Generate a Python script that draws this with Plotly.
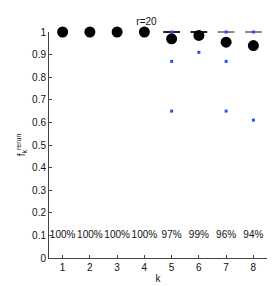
import plotly.graph_objects as go

ks = [1, 2, 3, 4, 5, 6, 7, 8]
frac = [1.0, 1.0, 1.0, 1.0, 0.97, 0.985, 0.955, 0.94]
pct_labels = ["100%", "100%", "100%", "100%", "97%", "99%", "96%", "94%"]
out_k = [5, 5, 5, 6, 7, 7, 7, 8, 8]
out_v = [1.0, 0.87, 0.65, 0.91, 1.0, 0.87, 0.65, 1.0, 0.61]
med_k = [5, 6, 7, 8]
med_v = [1.0, 1.0, 1.0, 1.0]
med_colors = ["#222222", "#222222", "#8a8a8a", "#8a8a8a"]
label_y = 0.1
yticks = [0, 0.1, 0.2, 0.3, 0.4, 0.5, 0.6, 0.7, 0.8, 0.9, 1]
ytick_text = ["0", "0.1", "0.2", "0.3", "0.4", "0.5", "0.6", "0.7", "0.8", "0.9", "1"]

font = "Liberation Sans, Arial, sans-serif"
txt = "#111111"

fig = go.Figure()
fig.add_trace(go.Scatter(
    x=med_k, y=med_v, mode="markers",
    marker=dict(symbol="line-ew", size=12, line=dict(width=2, color=med_colors)),
    cliponaxis=False, hoverinfo="skip"))
fig.add_trace(go.Scatter(
    x=out_k, y=out_v, mode="markers",
    marker=dict(symbol="square", size=3, color="#2a4dff"),
    cliponaxis=False))
fig.add_trace(go.Scatter(
    x=ks, y=frac, mode="markers",
    marker=dict(symbol="circle", size=11, color="black"),
    cliponaxis=False))
fig.add_trace(go.Scatter(
    x=ks, y=[label_y] * len(ks), mode="text", text=pct_labels,
    textposition="middle center",
    textfont=dict(family=font, size=10, color=txt),
    cliponaxis=False))

fig.update_layout(
    width=277, height=286,
    margin=dict(l=41, r=18, t=24, b=29),
    paper_bgcolor="white", plot_bgcolor="white",
    showlegend=False,
    font=dict(family=font, size=10, color=txt),
    title=dict(text="r=20", x=0.5, xanchor="center", y=1 - 13 / 286, yanchor="middle",
               font=dict(family=font, size=10, color=txt)),
    xaxis=dict(range=[0.5, 8.5], tickvals=ks, ticktext=[str(k) for k in ks],
               ticks="inside", ticklen=3, tickcolor="#444", showgrid=False, zeroline=False,
               showline=True, linecolor="#444", linewidth=1,
               title=dict(text="k", standoff=2, font=dict(size=10))),
    yaxis=dict(range=[0, 1], tickvals=yticks, ticktext=ytick_text,
               ticks="inside", ticklen=3, tickcolor="#444", showgrid=False, zeroline=False,
               showline=True, linecolor="#444", linewidth=1,
               title=dict(text="f<sub>k</sub><sup>rerun</sup>", standoff=4, font=dict(size=10))),
)

fig.write_html("out.html")
